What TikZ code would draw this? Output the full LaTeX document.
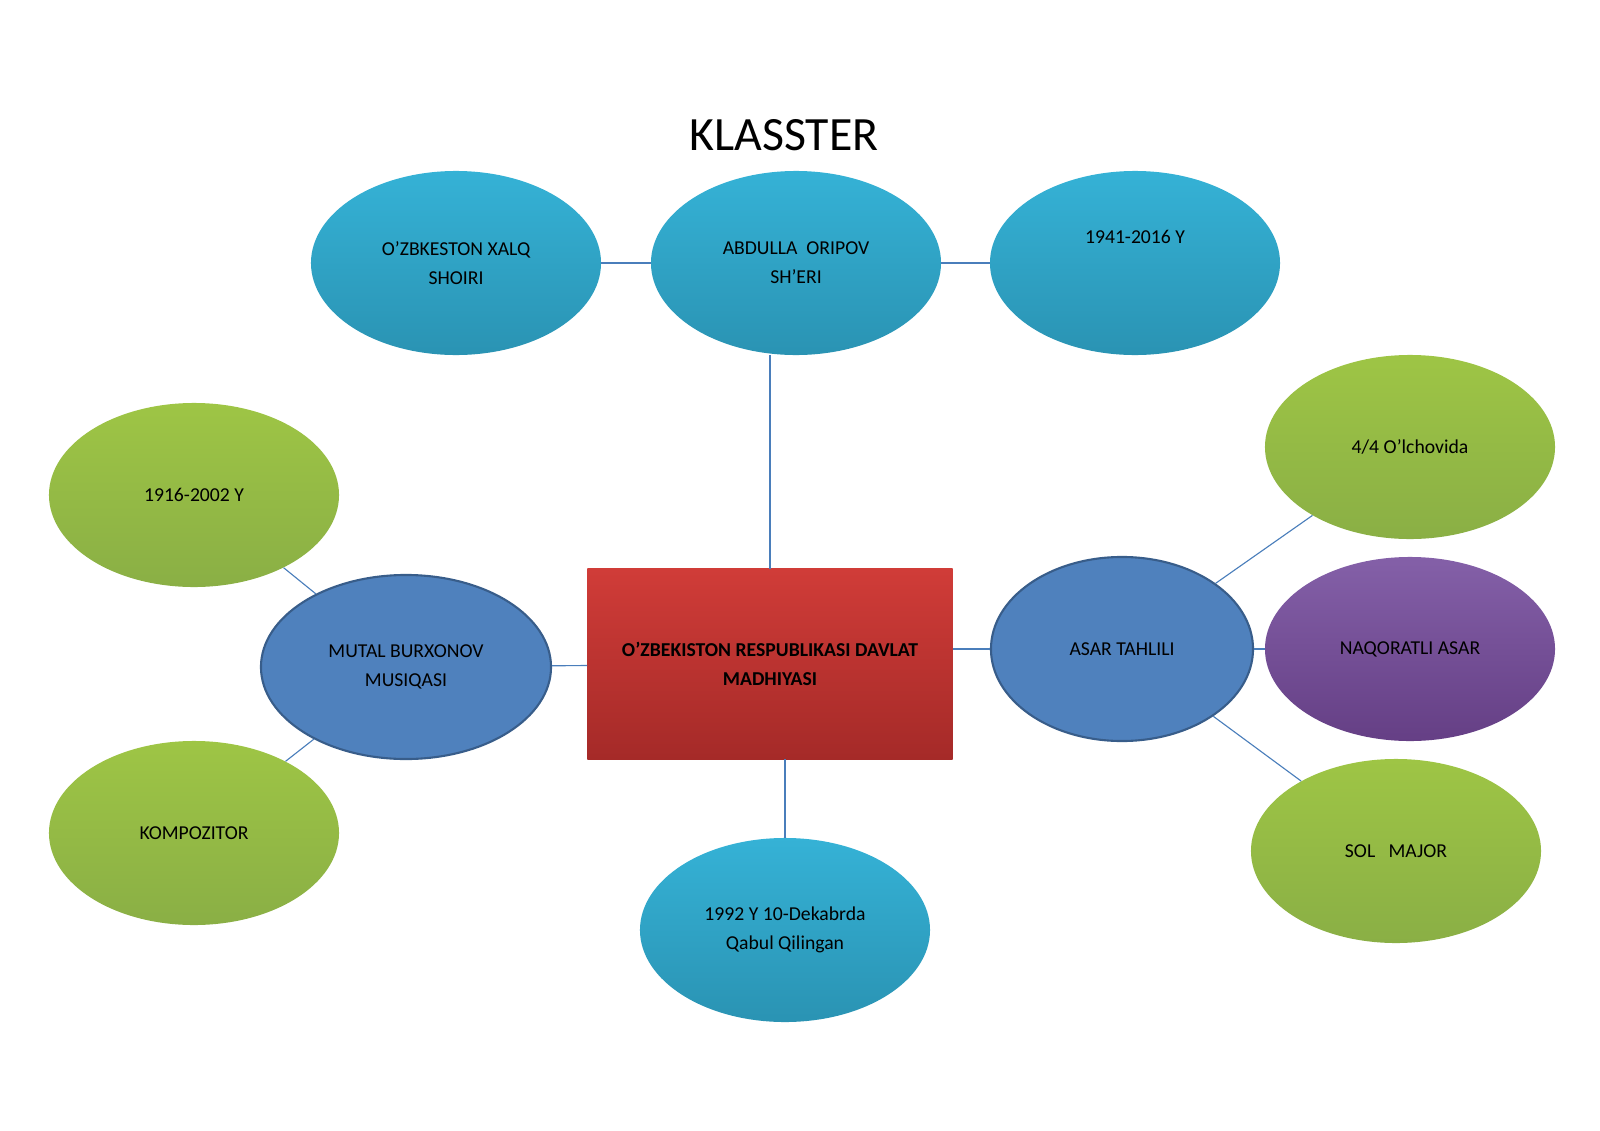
\documentclass[tikz,border=0pt]{standalone}
\usepackage{fontspec}
\setmainfont{Carlito}
\usetikzlibrary{shapes.geometric}
\definecolor{cyantop}{HTML}{35B2D6}
\definecolor{cyanbot}{HTML}{2A93B3}
\definecolor{greentop}{HTML}{9EC545}
\definecolor{greenbot}{HTML}{8AAF45}
\definecolor{bluefill}{HTML}{4F81BD}
\definecolor{blueedge}{HTML}{385D8A}
\definecolor{redtop}{HTML}{D03C38}
\definecolor{redbot}{HTML}{A52A28}
\definecolor{purpletop}{HTML}{8460A8}
\definecolor{purplebot}{HTML}{653F85}
\definecolor{linkcol}{HTML}{4A7EBB}
\begin{document}
\begin{tikzpicture}[x=0.025cm,y=-0.025cm,
  bubble/.style={ellipse,minimum width=7.25cm,minimum height=4.6cm,inner sep=0pt,
     align=center,font=\fontsize{14}{20.5}\selectfont},
  cyanbub/.style={bubble,top color=cyantop,bottom color=cyanbot},
  greenbub/.style={bubble,top color=greentop,bottom color=greenbot},
  bluebub/.style={bubble,fill=bluefill,draw=blueedge,line width=1.5pt},
  purplebub/.style={bubble,top color=purpletop,bottom color=purplebot},
  link/.style={draw=linkcol,line width=0.8pt}
  ]
\useasboundingbox (0,0) rectangle (1600,1131);
\node[font=\fontsize{34}{36}\selectfont] (title) at (784,135) {KLASSTER};
% top row
\node[cyanbub] (poet) at (456,263) {O’ZBKESTON XALQ\\SHOIRI};
\node[cyanbub] (author) at (796,263) {ABDULLA\ \ ORIPOV\\SH’ERI};
\node[cyanbub] (years) at (1135,263) {1941-2016 Y\\[1.2em]};
% centre
\node[rectangle,minimum width=9.125cm,minimum height=4.75cm,top color=redtop,bottom color=redbot,
  align=center,font=\fontsize{14}{20.5}\selectfont\bfseries] (anthem) at (770,664)
  {O’ZBEKISTON RESPUBLIKASI DAVLAT\\MADHIYASI};
% left
\node[bluebub] (music) at (406,667) {MUTAL BURXONOV\\MUSIQASI};
\node[greenbub] (life) at (194,495) {1916-2002 Y};
\node[greenbub] (composer) at (194,833) {KOMPOZITOR};
% bottom
\node[cyanbub] (adopted) at (785,930) {1992 Y 10-Dekabrda\\Qabul Qilingan};
% right
\node[bluebub,minimum width=6.55cm] (analysis) at (1122,649) {ASAR TAHLILI};
\node[greenbub] (metre) at (1410,447) {4/4 O’lchovida};
\node[purplebub] (chorus) at (1410,649) {NAQORATLI ASAR};
\node[greenbub] (key) at (1396,851) {SOL\ \ \ MAJOR};
% connectors
\path[link] (poet) -- (author);
\path[link] (author) -- (years);
\path[link] (author.south -| anthem.north) -- (anthem.north);
\path[link] (adopted.north |- anthem.south) -- (adopted.north);
\path[link] (anthem) -- (music);
\path[link] (music) -- (life);
\path[link] (music) -- (composer);
\path[link] (anthem.east |- analysis) -- (analysis);
\path[link] (analysis) -- (metre);
\path[link] (analysis) -- (chorus);
\path[link] (analysis) -- (key);
\end{tikzpicture}
\end{document}
